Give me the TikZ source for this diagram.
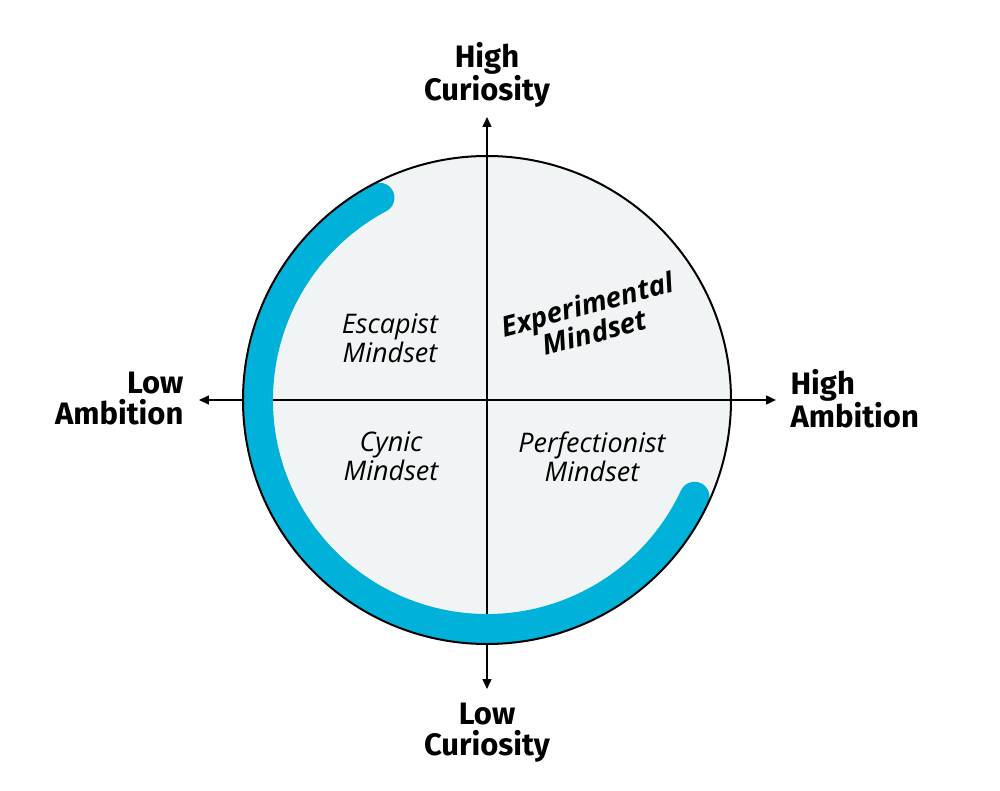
\documentclass[tikz,border=0pt]{standalone}
\usepackage{fontspec}
\setmainfont{Fira Sans}
\newfontfamily\quadfont{Open Sans}
\usetikzlibrary{arrows.meta}
\definecolor{quadfill}{HTML}{F1F4F4}
\definecolor{ringblue}{HTML}{00B2D9}

\begin{document}
\begin{tikzpicture}[
    x=1pt, y=1pt,
    axislabel/.style={font=\fontsize{31}{31}\selectfont\bfseries, align=center},
    quadlabel/.style={font=\quadfont\fontsize{27}{29}\selectfont\itshape, align=center},
    axis/.style={-{Triangle[length=10pt, width=9pt]}, line width=1.5pt}
]
    \useasboundingbox (-487,-390) rectangle (513,400);

    % Disc
    \fill[quadfill] (0,0) circle[radius=244pt];

    % Axes
    \coordinate (o) at (0,0);
    \coordinate (north) at (0,283);
    \coordinate (south) at (0,-289);
    \coordinate (west) at (-288,0);
    \coordinate (east) at (289,0);
    \draw[axis] (o) -- (north);
    \draw[axis] (o) -- (south);
    \draw[axis] (o) -- (west);
    \draw[axis] (o) -- (east);

    % Ring
    \draw[ringblue, line width=30pt, line cap=round]
        (118:229pt) arc[start angle=118, end angle=335, radius=229pt];
    \draw[line width=2pt] (0,0) circle[radius=244pt];

    % Axis labels
    \node[axislabel] (hicur) at (0,325) {High\\Curiosity};
    \node[axislabel] (locur) at (0,-333) {Low\\Curiosity};
    \node[axislabel, anchor=east, align=right] (loamb) at (-300,1) {Low\\Ambition};
    \node[axislabel, anchor=west, align=left] (hiamb) at (300,1) {High\\Ambition};

    % Quadrants
    \node[quadlabel] (escapist) at (-97,62) {Escapist\\Mindset};
    \node[quadlabel] (cynic) at (-96,-56) {Cynic\\Mindset};
    \node[quadlabel] (perfect) at (105,-57) {Perfectionist\\Mindset};
    \node[quadlabel, font=\quadfont\fontsize{28}{29}\selectfont\bfseries\itshape, rotate=15] (experiment) at (104,82) {Experimental\\Mindset};
\end{tikzpicture}
\end{document}
